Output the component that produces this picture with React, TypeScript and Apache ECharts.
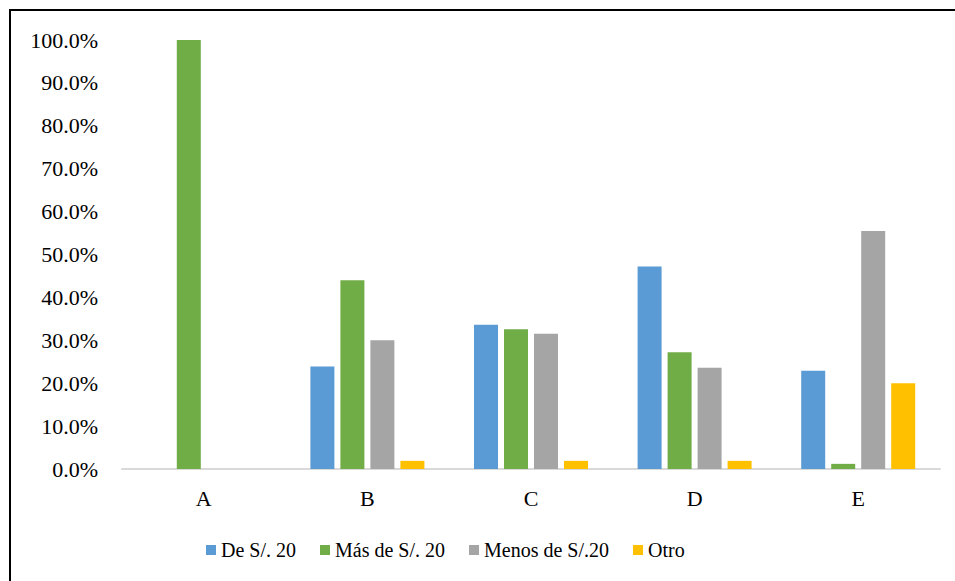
import React, { useEffect, useRef } from "react";
import * as echarts from "echarts";

const categories = ["A", "B", "C", "D", "E"];
const seriesNames = ["De S/. 20", "Más de S/. 20", "Menos de S/.20", "Otro"];
const deS20 = [0, 23.9, 33.6, 47.2, 22.9];
const masDeS20 = [100, 44.0, 32.6, 27.2, 1.2];
const menosDeS20 = [0, 30.0, 31.5, 23.6, 55.5];
const otro = [0, 1.9, 1.9, 1.9, 20.0];
const colors = ["#5b9bd5", "#70ad47", "#a5a5a5", "#ffc000"];

export default function App() {
  const ref = useRef<HTMLDivElement>(null);
  useEffect(() => {
    if (!ref.current) return;
    const chart = echarts.init(ref.current, undefined, { renderer: "svg" });
    const font = "Liberation Serif";
    const values = [deS20, masDeS20, menosDeS20, otro];
    chart.setOption({
      animation: false,
      backgroundColor: "#ffffff",
      textStyle: { fontFamily: font },
      graphic: [
        {
          type: "rect",
          shape: { x: 10, y: 10, width: 980, height: 620 },
          style: { fill: "none", stroke: "#000000", lineWidth: 2 },
          silent: true,
        },
      ],
      grid: { left: 122, right: 15, top: 40, bottom: 112 },
      legend: {
        data: seriesNames,
        top: 540,
        left: 206,
        itemWidth: 10,
        itemHeight: 10,
        itemGap: 24,
        padding: 0,
        icon: "rect",
        textStyle: { fontFamily: font, fontSize: 20, color: "#000000" },
      },
      xAxis: {
        type: "category",
        data: categories,
        axisLine: { lineStyle: { color: "#d9d9d9", width: 2 } },
        axisTick: { show: false },
        axisLabel: { fontFamily: font, fontSize: 22, color: "#000000", margin: 18 },
      },
      yAxis: {
        type: "value",
        min: 0,
        max: 100,
        interval: 10,
        splitLine: { show: false },
        axisLine: { show: false },
        axisTick: { show: false },
        axisLabel: {
          fontFamily: font,
          fontSize: 22,
          color: "#000000",
          margin: 24,
          formatter: (v: number) => v.toFixed(1) + "%",
        },
      },
      series: seriesNames.map((name, i) => ({
        name,
        type: "bar",
        data: values[i],
        barWidth: 24,
        barGap: "25%",
        itemStyle: { color: colors[i] },
      })),
    });
    return () => chart.dispose();
  }, []);
  return (
    <div
      ref={ref}
      style={{ position: "fixed", left: 0, top: 0, width: 955, height: 581 }}
    />
  );
}
